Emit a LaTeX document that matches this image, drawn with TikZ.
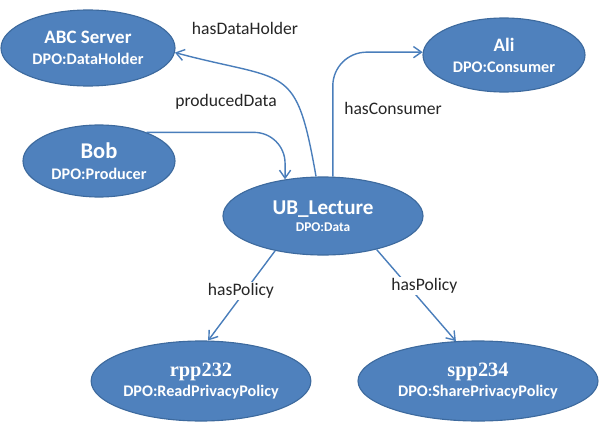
\documentclass[tikz,border=0pt]{standalone}
\usepackage{fontspec}
\setmainfont{Carlito}
\newfontfamily\numfont{Liberation Serif}
\usetikzlibrary{arrows.meta,shapes.geometric}
\definecolor{cfill}{HTML}{4F81BD}
\definecolor{cedge}{HTML}{3D6A9E}
\definecolor{cline}{HTML}{4A7EBB}
\definecolor{ctext}{HTML}{262626}
\tikzset{
  cls/.style={ellipse, draw=cedge, fill=cfill, line width=0.8pt, inner sep=0pt,
              text=white, align=center, font=\bfseries\fontsize{11.5}{13}\selectfont},
  rel/.style={-{Straight Barb[length=2mm,width=2.8mm]}, line width=1pt, draw=cline},
  lbl/.style={text=ctext, fill=white, inner sep=1pt, font=\fontsize{12.5}{14}\selectfont}
}
\begin{document}
\begin{tikzpicture}
\useasboundingbox (0,0) rectangle (15,10.55);
% classes
\node[cls, minimum width=4.35cm, minimum height=1.9cm] (srv) at (2.2,9.35)
  {{\fontsize{13.5}{15}\selectfont ABC Server}\\[2pt]DPO:DataHolder};
\node[cls, minimum width=4.05cm, minimum height=1.85cm] (ali) at (12.6,9.175)
  {{\fontsize{13.5}{15}\selectfont Ali}\\[2pt]DPO:Consumer};
\node[cls, minimum width=3.8cm, minimum height=1.8cm] (bob) at (2.475,6.525)
  {{\fontsize{16}{18}\selectfont Bob}\\[2pt]DPO:Producer};
\node[cls, minimum width=5cm, minimum height=1.95cm] (ub) at (8.075,5.15)
  {{\fontsize{15}{17}\selectfont UB\_Lecture}\\[-1pt]{\fontsize{9.5}{11}\selectfont DPO:Data}};
\node[cls, minimum width=5.3cm, minimum height=2cm] (rpp) at (5.025,1.025)
  {{\numfont\fontsize{14.5}{16}\selectfont rpp232}\\[1pt]DPO:ReadPrivacyPolicy};
\node[cls, minimum width=6cm, minimum height=2cm] (spp) at (11.95,1.025)
  {{\numfont\fontsize{14.5}{16}\selectfont spp234}\\[1pt]DPO:SharePrivacyPolicy};
% relations
\draw[rel, rounded corners=22pt] (bob.31) -| (ub.136);
\draw[rel] (ub.100) to[out=100,in=-15,looseness=1.6] (srv.-3);
\draw[rel, rounded corners=24pt] (ub.76) |- (ali.178);
\draw[rel] (ub.216) -- node[lbl, pos=0.45, xshift=-1mm] (lpol1) {hasPolicy} (rpp.80);
\draw[rel] (ub.-32) -- node[lbl, pos=0.4, xshift=4mm] (lpol2) {hasPolicy} (spp.119);
\node[lbl] (lprod) at (5.65,8.0) {producedData};
\node[lbl] (lhold) at (6.125,9.85) {hasDataHolder};
\node[lbl] (lcons) at (9.825,7.85) {hasConsumer};
\end{tikzpicture}
\end{document}
